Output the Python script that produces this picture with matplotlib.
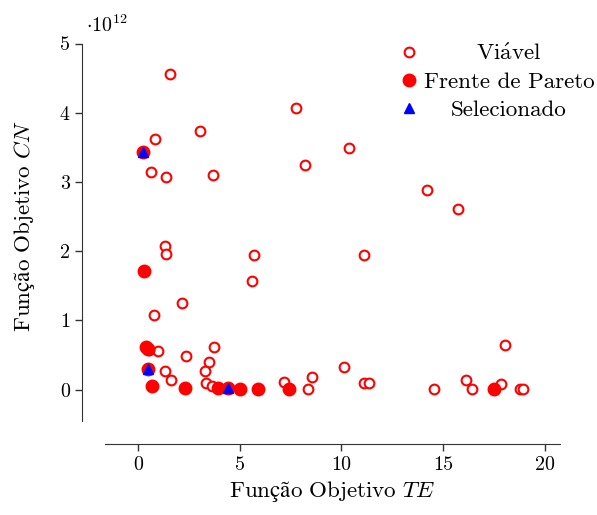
import matplotlib
matplotlib.use("Agg")
import matplotlib.pyplot as plt
from matplotlib.ticker import FuncFormatter

plt.rcParams['font.family'] = ['cmr10', 'DejaVu Serif']
plt.rcParams['mathtext.fontset'] = 'cm'
plt.rcParams['axes.unicode_minus'] = False

# feasible solutions (TE, CN in units of 1e12)
viavel_te = [1.56, 7.76, 3.05, 0.85, 0.62, 1.38, 3.70, 8.19, 10.38, 14.22, 15.72,
             1.34, 1.36, 5.70, 5.59, 2.16, 0.77, 0.97, 3.73, 2.36, 3.47, 3.28,
             1.34, 1.64, 3.34, 3.64, 7.16, 8.34, 8.57, 10.14, 11.12, 11.12,
             11.35, 14.53, 16.12, 16.43, 18.02, 17.84, 18.79, 18.94, 0.55]
viavel_cn = [4.56, 4.07, 3.73, 3.62, 3.14, 3.07, 3.10, 3.25, 3.49, 2.89, 2.61,
             2.07, 1.96, 1.94, 1.57, 1.25, 1.08, 0.56, 0.61, 0.48, 0.40, 0.27,
             0.27, 0.14, 0.10, 0.06, 0.11, 0.015, 0.19, 0.33, 1.95, 0.09,
             0.09, 0.01, 0.14, 0.005, 0.64, 0.08, 0.01, 0.01, 0.57]

# pareto front
pareto_te = [0.25, 0.31, 0.38, 0.51, 0.48, 0.70, 2.32, 3.93, 4.41, 5.00, 5.88, 7.40, 17.49]
pareto_cn = [3.44, 1.72, 0.61, 0.59, 0.30, 0.06, 0.02, 0.02, 0.02, 0.01, 0.005, 0.005, 0.005]

# selected solutions
sel_te = [0.25, 0.48, 4.41]
sel_cn = [3.44, 0.30, 0.02]

escala = 1e12
fs_lab = 16.6
fs_tick = 14.4

fig = plt.figure(figsize=(5.97, 5.15), dpi=100)
ax = fig.add_axes([0.1752, 0.1831, 0.938 - 0.1752, 0.9155 - 0.1831])

ax.plot(viavel_te, [v * escala for v in viavel_cn], 'o', ls='none', mfc='white',
        mec='red', mew=1.5, ms=7, label=r'$\mathrm{Vi\acute{a}vel}$')
ax.plot(pareto_te, [v * escala for v in pareto_cn], 'o', ls='none', color='red',
        ms=9, label='Frente de Pareto')
ax.plot(sel_te, [v * escala for v in sel_cn], '^', ls='none', color='blue',
        ms=7, label='Selecionado')

ax.set_xlim(-1.64, 20.74)
ax.set_ylim(-0.448 * escala, 5.0 * escala)
ax.set_xticks([0, 5, 10, 15, 20])
ax.set_yticks([i * escala for i in range(6)])
ax.yaxis.set_major_formatter(FuncFormatter(lambda v, p: '%d' % round(v / escala)))

for s in ['top', 'right']:
    ax.spines[s].set_visible(False)
ax.spines['left'].set_position(('outward', 16.5))
ax.spines['bottom'].set_position(('outward', 16.8))
ax.spines['left'].set_color('#333333')
ax.spines['bottom'].set_color('#333333')
ax.tick_params(direction='out', length=5, width=1, color='#333333', labelsize=fs_tick)

ax.text(-0.04, 1.02, r'$\cdot 10^{12}$', transform=ax.transAxes, fontsize=fs_tick,
        ha='left', va='bottom')

ax.set_xlabel(r'$\mathrm{Função\ Objetivo}\ TE$', fontsize=fs_lab)
ax.set_ylabel(r'$\mathrm{Função\ Objetivo}\ CN$', fontsize=fs_lab)
ax.yaxis.set_label_coords(-0.149, 0.516)

leg = ax.legend(loc='upper right', bbox_to_anchor=(1.075, 1.001), frameon=False,
                borderpad=0, borderaxespad=0, handletextpad=0.35,
                labelspacing=0.33, fontsize=fs_lab, handlelength=0.6)

# center legend labels on the widest one
fig.canvas.draw()
r = fig.canvas.get_renderer()
larg = [t.get_window_extent(r).width for t in leg.get_texts()]
wmax = max(larg)
for t, w in zip(leg.get_texts(), larg):
    t.set_x((wmax - w) / 2)

fig.savefig('out.png', dpi=100)
